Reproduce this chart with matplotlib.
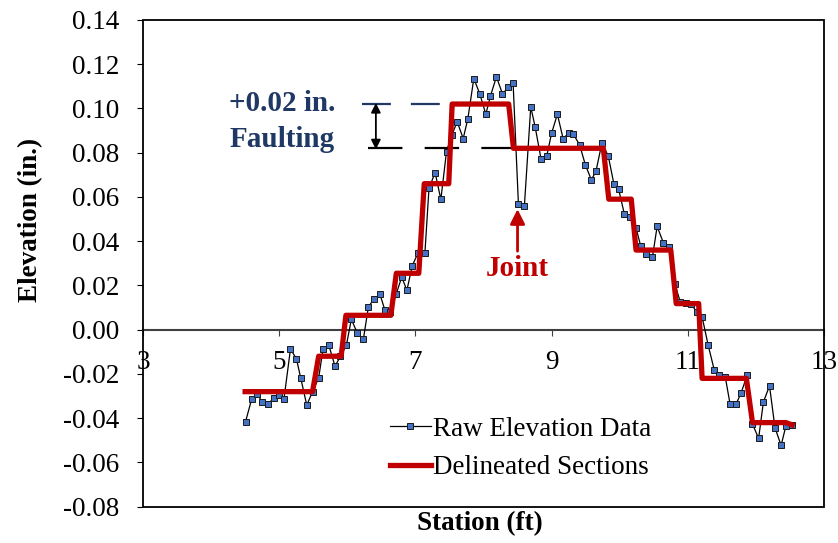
import matplotlib
matplotlib.use("Agg")
import matplotlib.pyplot as plt
from matplotlib.patches import Rectangle

plt.rcParams["font.family"] = ["Liberation Serif", "DejaVu Serif"]

# raw profile (station ft, elevation in.)
station = [4.506, 4.598, 4.68, 4.75, 4.84, 4.92, 5.00, 5.07, 5.166, 5.254,
           5.317, 5.405, 5.49, 5.58, 5.644, 5.73, 5.82, 5.90, 5.987, 6.06,
           6.148, 6.236, 6.31, 6.39, 6.48, 6.55, 6.63, 6.72, 6.80, 6.875,
           6.955, 7.04, 7.14, 7.20, 7.29, 7.374, 7.457, 7.535, 7.614, 7.702,
           7.77, 7.858, 7.946, 8.034, 8.103, 8.19, 8.279, 8.362, 8.435, 8.513,
           8.601, 8.694, 8.758, 8.846, 8.928, 9.00, 9.085, 9.169, 9.25, 9.32,
           9.412, 9.496, 9.584, 9.652, 9.74, 9.833, 9.916, 9.984, 10.07, 10.15,
           10.24, 10.31, 10.39, 10.48, 10.55, 10.64, 10.73, 10.81, 10.89, 10.97,
           11.05, 11.13, 11.21, 11.30, 11.39, 11.46, 11.55, 11.62, 11.71, 11.78,
           11.87, 11.95, 12.04, 12.11, 12.20, 12.28, 12.37, 12.44, 12.53]
elev = [-0.0416, -0.0312, -0.0291, -0.0327, -0.0336, -0.0308, -0.0297, -0.0314, -0.0087, -0.0132,
        -0.0219, -0.0341, -0.028, -0.0218, -0.0087, -0.0071, -0.0165, -0.012, -0.007, 0.0047,
        -0.0016, -0.0044, 0.0103, 0.0138, 0.016, 0.0091, 0.008, 0.0163, 0.0238, 0.0178,
        0.029, 0.0347, 0.0347, 0.064, 0.071, 0.0589, 0.0805, 0.088, 0.094, 0.0864,
        0.0953, 0.1135, 0.1066, 0.0974, 0.1057, 0.1143, 0.1066, 0.1095, 0.1114, 0.0568,
        0.0561, 0.1007, 0.0918, 0.0770, 0.0784, 0.0888, 0.0974, 0.0864, 0.0888, 0.0884,
        0.0835, 0.0745, 0.0677, 0.0717, 0.0845, 0.0784, 0.0657, 0.0636, 0.0521, 0.0508,
        0.0459, 0.0377, 0.0341, 0.0327, 0.0467, 0.0394, 0.0374, 0.0207, 0.0125, 0.0122,
        0.0118, 0.0078, 0.0058, -0.0071, -0.0184, -0.0205, -0.0213, -0.0335, -0.0335, -0.0288,
        -0.0207, -0.0427, -0.0491, -0.0327, -0.0254, -0.0443, -0.0523, -0.0436, -0.043]

# delineated sections (corner points)
sec_x = [4.50, 5.49, 5.58, 5.91, 5.98, 6.64, 6.72, 7.05, 7.13, 7.49, 7.54, 8.37, 8.44,
         9.76, 9.84, 10.17, 10.24, 10.75, 10.83, 11.16, 11.21, 11.86, 11.95, 12.44, 12.53]
sec_y = [-0.028, -0.028, -0.012, -0.012, 0.0065, 0.0065, 0.0255, 0.0255, 0.066, 0.066,
         0.102, 0.102, 0.082, 0.082, 0.059, 0.059, 0.036, 0.036, 0.0118, 0.0118,
         -0.022, -0.022, -0.042, -0.042, -0.043]

xticks = [3, 5, 7, 9, 11, 13]
yticks = [-0.08, -0.06, -0.04, -0.02, 0.00, 0.02, 0.04, 0.06, 0.08, 0.10, 0.12, 0.14]

navy = "#1F3864"
red = "#C00000"
fs = 19.5

fig = plt.figure(figsize=(8.38, 5.43), dpi=100)
ax = fig.add_axes([0.1706, 0.0669, 0.8127, 0.8963])

ax.plot(station, elev, color="black", lw=0.9, marker="s", ms=4.2,
        mfc="#4472C4", mec="#1a1a1a", mew=0.7, label="Raw Elevation Data", zorder=3)
ax.plot(sec_x, sec_y, color=red, lw=3.8, label="Delineated Sections", zorder=4)

ax.set_xlim(3, 13)
ax.set_ylim(-0.08, 0.14)
ax.set_xticks(xticks)
ax.set_yticks(yticks)
ax.set_yticklabels([f"{v:.2f}" for v in yticks])

# x axis crosses at zero, frame drawn separately
for s in ["top", "right", "left"]:
    ax.spines[s].set_visible(False)
ax.spines["bottom"].set_position(("data", 0))
ax.spines["bottom"].set_color("#404040")
ax.spines["bottom"].set_linewidth(1.5)
ax.add_patch(Rectangle((0, 0), 1, 1, transform=ax.transAxes, fill=False,
                       ec="black", lw=1.3, clip_on=False, zorder=5))
ax.tick_params(axis="x", direction="out", length=4.5, pad=10, labelsize=fs, color="#404040")
ax.tick_params(axis="y", direction="out", length=4, pad=13, labelsize=fs)

ax.set_ylabel("Elevation (in.)", fontsize=fs, fontweight="bold")
ax.yaxis.set_label_coords(-0.146, 0.59)
fig.text(0.573, 0.035, "Station (ft)", fontsize=fs, fontweight="bold", ha="center", va="center")

# faulting annotation
ax.plot([6.21, 7.43], [0.102, 0.102], color=navy, lw=1.6, dashes=(13, 9))
ax.plot([6.31, 8.43], [0.082, 0.082], color="black", lw=1.6, dashes=(15.5, 10))
ax.annotate("", xy=(6.42, 0.1025), xytext=(6.42, 0.0815),
            arrowprops=dict(arrowstyle="<|-|>", color="black", lw=1.3,
                            mutation_scale=14, shrinkA=0, shrinkB=0))
ax.text(5.04, 0.1021, "+0.02 in.", color=navy, fontsize=21, fontweight="bold",
        ha="center", va="center")
ax.text(5.04, 0.0862, "Faulting", color=navy, fontsize=21, fontweight="bold",
        ha="center", va="center")

# joint marker
ax.annotate("", xy=(8.5, 0.0545), xytext=(8.5, 0.0355),
            arrowprops=dict(arrowstyle="-|>", color=red, lw=2.0,
                            mutation_scale=22, shrinkA=0, shrinkB=0))
ax.text(8.5, 0.0278, "Joint", color=red, fontsize=21, fontweight="bold",
        ha="center", va="center")

ax.legend(loc="upper left", bbox_to_anchor=(0.347, 0.207), frameon=False,
          fontsize=fs, handlelength=1.5, handletextpad=0.1, labelspacing=0.5,
          borderaxespad=0)

fig.savefig("out.png", dpi=100)
